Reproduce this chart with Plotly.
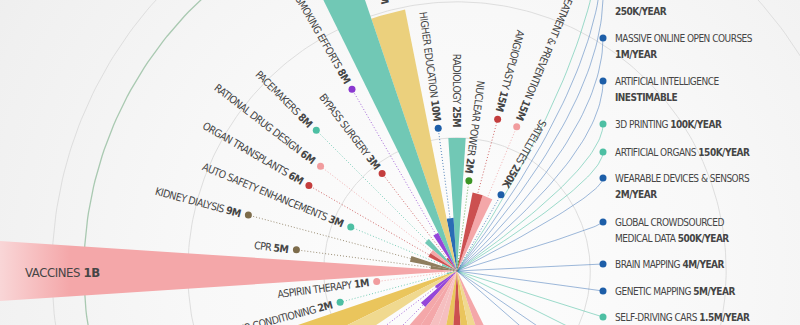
import math
import plotly.graph_objects as go

# ------------------------------------------------------------------ data
# Discoveries, in slot order (counter-clockwise around the hub, starting right)
names = [
    "SATELLITES", "HIV TREATMENT & PREVENTION", "ANGIOPLASTY", "NUCLEAR POWER",
    "RADIOLOGY", "HIGHER EDUCATION", "ORAL REHYDRATION THERAPY", "BLOOD TRANSFUSION",
    "ANTI-SMOKING EFFORTS", "BYPASS SURGERY", "PACEMAKERS", "RATIONAL DRUG DESIGN",
    "ORGAN TRANSPLANTS", "AUTO SAFETY ENHANCEMENTS", "KIDNEY DIALYSIS", "CPR",
    "VACCINES", "ASPIRIN THERAPY", "AIR CONDITIONING", "ANTIBIOTICS",
    "WATER CHLORINATION", "DEFIBRILLATORS", "CHEMOTHERAPY", "PASTEURIZATION",
    "ANESTHESIA", "INSULIN", "ANTIMALARIALS", "SANITATION", "BLOOD TYPING",
    "GREEN REVOLUTION", "REFRIGERATION", "ORAL CONTRACEPTION",
]
lives_m = [0.25, 15, 15, 2, 25, 10, 50, 100, 8, 3, 8, 6, 6, 3, 9, 5,
           1000, 1, 2, 120, 90, 5, 9, 70, 60, 45, 40, 80, 30, 100, 60, 40]
lives_text = ["250K", "15M", "15M", "2M", "25M", "10M", "50M", "100M", "8M", "3M",
              "8M", "6M", "6M", "3M", "9M", "5M", "1B", "1M", "2M", "120M", "90M",
              "5M", "9M", "70M", "60M", "45M", "40M", "80M", "30M", "100M", "60M", "40M"]
groups = ["blue", "pink", "red", "green", "teal", "blue", "yellow", "teal",
          "purple", "red", "teal", "pink", "red", "teal", "brown", "brown",
          "pink", "pink", "teal", "gold", "sand", "purple", "purple", "pink",
          "pink", "rose", "rose", "gold", "red", "gold", "sand", "pink"]

# Future technologies (right-hand list)
future_names = ["PERSONALIZED MEDICINE", "ROBOTIC SURGERY", "TELEMEDICINE",
                "MASSIVE ONLINE OPEN COURSES", "ARTIFICIAL INTELLIGENCE", "3D PRINTING",
                "ARTIFICIAL ORGANS", "WEARABLE DEVICES & SENSORS",
                "GLOBAL CROWDSOURCED MEDICAL DATA", "BRAIN MAPPING", "GENETIC MAPPING",
                "SELF-DRIVING CARS", "NANOTECHNOLOGY", "STEM CELL RESEARCH", "CLEAN ENERGY"]
future_rates = ["1M/YEAR", "500K/YEAR", "250K/YEAR", "1M/YEAR", "INESTIMABLE",
                "100K/YEAR", "150K/YEAR", "2M/YEAR", "500K/YEAR", "4M/YEAR",
                "5M/YEAR", "1.5M/YEAR", "1M/YEAR", "2M/YEAR", "3M/YEAR"]
future_groups = ["teal", "blue", "blue", "blue", "blue", "teal", "teal", "blue",
                 "blue", "blue", "blue", "teal", "teal", "blue", "blue"]

# ------------------------------------------------------------------ layout / style
W, H = 800, 325
HUB = (457, 271)              # hub position in pixels
K = 5.33                      # pixels per million lives
SLOT0, SLOT = 60.0, 7.5       # first slot angle, slot width (degrees)
RINGS_M = [25, 50.5, 76]
GREEN_RING_M = 70

DOT_R_PX = {"SATELLITES": 88, "HIV TREATMENT & PREVENTION": 156, "ANGIOPLASTY": 157,
            "NUCLEAR POWER": 91, "HIGHER EDUCATION": 144, "ANTI-SMOKING EFFORTS": 210,
            "BYPASS SURGERY": 123, "PACEMAKERS": 199, "RATIONAL DRUG DESIGN": 172,
            "ORGAN TRANSPLANTS": 171, "AUTO SAFETY ENHANCEMENTS": 115,
            "KIDNEY DIALYSIS": 216, "CPR": 162, "ASPIRIN THERAPY": 81,
            "AIR CONDITIONING": 121, "DEFIBRILLATORS": 150, "CHEMOTHERAPY": 140}
INSIDE_LABEL_X_PX = {"VACCINES": 23}

FUTURE_Y_PX = [-91, -48, -5, 38, 81, 124, 152, 178, 222, 264, 291, 317, 344, 371, 398]
FUTURE_DOT_X_PX, FUTURE_TEXT_X_PX, LINE_GAP_PX = 603, 613, 16
# words of the name on the first line (None -> single line "NAME RATE")
FUTURE_WRAP = [2, 2, 1, 4, 2, None, None, 4, 2, None, None, None, None, None, None]

WEDGE = {"teal": "#71c8b5", "yellow": "#ebd07d", "gold": "#eac55c", "sand": "#f0d98f",
         "blue": "#2a6cb5", "pink": "#f4a7a9", "rose": "#f6bfc0", "red": "#cc5050",
         "purple": "#9546d9", "brown": "#8e7d5e", "green": "#4a9a34"}
DOT = {"teal": "#4dbfa3", "yellow": "#e3c25a", "gold": "#e3c25a", "sand": "#e3c25a",
       "blue": "#1d5ea8", "pink": "#f19c9e", "rose": "#f19c9e", "red": "#c43d3d",
       "purple": "#8a38d0", "brown": "#7d6c4b", "green": "#3b9424"}
LINE = {"teal": "rgba(77,191,163,0.55)", "blue": "rgba(40,100,175,0.45)"}
FONT = "Liberation Sans Narrow, Arial Narrow, DejaVu Sans Condensed, Roboto, sans-serif"
TXT = "#454545"
LABEL_SIZE, LABEL_LS = 10.5, -0.55
LIST_SIZE, LIST_LS = 10, -0.5
BIG_SIZE, BIG_LS = 13, -0.4


def spaced(s, ls):
    return f'<span style="letter-spacing:{ls}px">{s}</span>'


def px2d(xp, yp):
    return (xp - HUB[0]) / K, (HUB[1] - yp) / K


def polar(theta_deg, r):
    t = math.radians(theta_deg)
    return r * math.cos(t), r * math.sin(t)


fig = go.Figure()

# background vignette
bx, by = [], []
for i in range(181):
    x, y = polar(i * 2, 110)
    bx.append(x); by.append(y)
fig.add_trace(go.Scatter(x=bx, y=by, mode="lines", fill="toself", line=dict(width=0),
                         fillgradient=dict(type="radial",
                                           colorscale=[[0, "#fdfdfd"], [0.45, "#f8f8f8"],
                                                       [0.85, "#f0f0f0"], [1, "#ececec"]]),
                         hoverinfo="skip"))

# rings (grey all round, green on the "past" half only)
ring_specs = [(r, "#dedede", 1, 0, 360) for r in RINGS_M] + \
             [(GREEN_RING_M, "#a9c9b1", 1.3, 90, 270)]
for rm, col, wd, a0, a1 in ring_specs:
    cx, cy = [], []
    for i in range(a0, a1 + 1):
        x, y = polar(i, rm)
        cx.append(x); cy.append(y)
    fig.add_trace(go.Scatter(x=cx, y=cy, mode="lines", line=dict(color=col, width=wd),
                             hoverinfo="skip"))

# future lines (curves from hub to list dots)
for yp, g in zip(FUTURE_Y_PX, future_groups):
    up = max(0.0, HUB[1] - yp)
    k = min(1.0, up / 200.0)
    cyp = yp + 0.4 * up * k
    xs, ys = [], []
    for j in range(41):
        t = j / 40
        xp = (1 - t) ** 2 * HUB[0] + 2 * t * (1 - t) * FUTURE_DOT_X_PX + t * t * FUTURE_DOT_X_PX
        ypp = (1 - t) ** 2 * HUB[1] + 2 * t * (1 - t) * cyp + t * t * yp
        x, y = px2d(xp, ypp)
        xs.append(x); ys.append(y)
    fig.add_trace(go.Scatter(x=xs, y=ys, mode="lines", line=dict(color=LINE[g], width=1),
                             hoverinfo="skip"))

# dotted leader lines
for i, n in enumerate(names):
    if n in DOT_R_PX:
        th = SLOT0 + SLOT * i
        x1, y1 = polar(th, DOT_R_PX[n] / K)
        fig.add_trace(go.Scatter(x=[0, x1], y=[0, y1], mode="lines",
                                 line=dict(color=DOT[groups[i]], width=1, dash="1px,2px"),
                                 opacity=0.75, hoverinfo="skip"))

# wedges
for i, (n, v, g) in enumerate(zip(names, lives_m, groups)):
    th = SLOT0 + SLOT * i
    xs, ys = [0], [0]
    for j in range(13):
        a = th - SLOT / 2 + SLOT * j / 12
        x, y = polar(a, v)
        xs.append(x); ys.append(y)
    xs.append(0); ys.append(0)
    kw = dict(fillcolor=WEDGE[g])
    if n in INSIDE_LABEL_X_PX:
        kw = dict(fillgradient=dict(type="horizontal",
                                    colorscale=[[0, "#f9d6d7"], [1, WEDGE[g]]],
                                    start=px2d(0, 0)[0], stop=px2d(70, 0)[0]))
    fig.add_trace(go.Scatter(x=xs, y=ys, mode="lines", fill="toself",
                             line=dict(width=0), hoverinfo="skip", **kw))

# dots
dx_, dy_, dc_ = [], [], []
for i, n in enumerate(names):
    if n in DOT_R_PX:
        x, y = polar(SLOT0 + SLOT * i, DOT_R_PX[n] / K)
        dx_.append(x); dy_.append(y); dc_.append(DOT[groups[i]])
for yp, g in zip(FUTURE_Y_PX, future_groups):
    x, y = px2d(FUTURE_DOT_X_PX, yp)
    dx_.append(x); dy_.append(y); dc_.append(DOT[g])
fig.add_trace(go.Scatter(x=dx_, y=dy_, mode="markers",
                         marker=dict(size=7, color=dc_, line=dict(width=0)),
                         hoverinfo="skip"))

annotations = []


def radial_label(text, theta, r0_px, size):
    ux, uy = math.cos(math.radians(theta)), math.sin(math.radians(theta))
    ex, ey = ux * r0_px / K, uy * r0_px / K
    h = size * 1.25 / K / 2
    eps = 0.08
    if ux < -eps:
        xa, x = "right", ex + h * abs(uy)
    elif ux > eps:
        xa, x = "left", ex - h * abs(uy)
    else:
        xa, x = "center", ex
    if uy > eps:
        ya, y = "bottom", ey - h * abs(ux)
    elif uy < -eps:
        ya, y = "top", ey + h * abs(ux)
    else:
        ya, y = "middle", ey
    ang = 180 - theta
    if ang > 180:
        ang -= 360
    if ang <= -180:
        ang += 360
    annotations.append(dict(x=x, y=y, xref="x", yref="y", text=text, showarrow=False,
                            textangle=ang, xanchor=xa, yanchor=ya, borderpad=0,
                            borderwidth=0, font=dict(family=FONT, size=size, color=TXT)))


for i, (n, v, t) in enumerate(zip(names, lives_m, lives_text)):
    th = SLOT0 + SLOT * i
    if n in INSIDE_LABEL_X_PX:
        x, y = px2d(INSIDE_LABEL_X_PX[n], HUB[1] + 1)
        annotations.append(dict(x=x, y=y, xref="x", yref="y",
                                text=spaced(f"{n} <b>{t}</b>", BIG_LS), showarrow=False,
                                xanchor="left", yanchor="middle",
                                font=dict(family=FONT, size=BIG_SIZE, color=TXT)))
        continue
    r0 = DOT_R_PX[n] + 8 if n in DOT_R_PX else v * K + 10
    radial_label(spaced(f"{n} <b>{t}</b>", LABEL_LS), th, r0, LABEL_SIZE)

for n, rate, yp, wrap in zip(future_names, future_rates, FUTURE_Y_PX, FUTURE_WRAP):
    words = n.split()
    if wrap is None:
        lines = [f"{n} <b>{rate}</b>"]
    elif wrap >= len(words):
        lines = [n, f"<b>{rate}</b>"]
    else:
        lines = [" ".join(words[:wrap]), " ".join(words[wrap:]) + f" <b>{rate}</b>"]
    for li, s in enumerate(lines):
        x, y = px2d(FUTURE_TEXT_X_PX, yp + li * LINE_GAP_PX)
        annotations.append(dict(x=x, y=y, xref="x", yref="y", text=spaced(s, LIST_LS),
                                showarrow=False, xanchor="left", yanchor="middle",
                                font=dict(family=FONT, size=LIST_SIZE, color=TXT)))

x0, y1 = px2d(0, 0)
x1, y0 = px2d(W, H)
fig.update_layout(
    width=W, height=H, margin=dict(l=0, r=0, t=0, b=0), showlegend=False,
    paper_bgcolor="#ececec", plot_bgcolor="#ececec", annotations=annotations,
    xaxis=dict(range=[x0, x1], visible=False, fixedrange=True),
    yaxis=dict(range=[y0, y1], visible=False, fixedrange=True),
)
fig.write_html("out.html", config={"displayModeBar": False})
